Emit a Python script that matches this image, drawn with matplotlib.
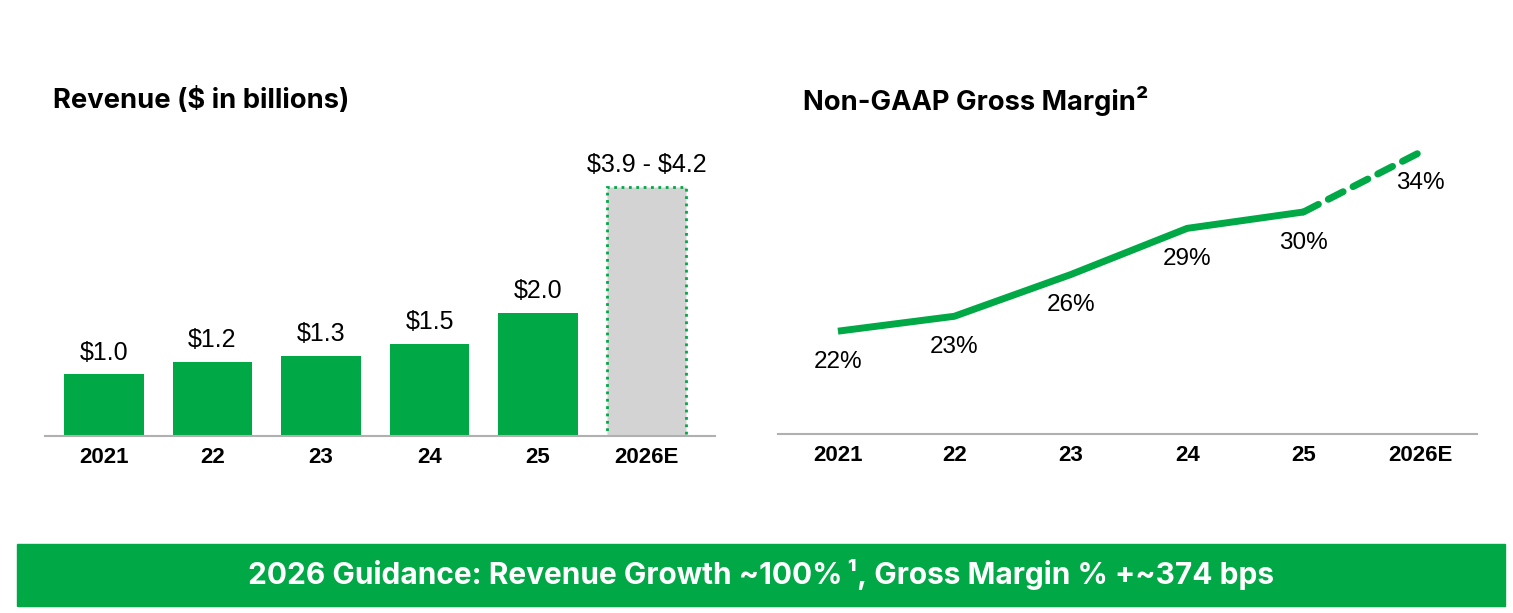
import matplotlib.pyplot as plt
from matplotlib.patches import Rectangle

# revenue, $ in billions (2026E drawn at guidance midpoint)
rev_years = ["2021", "22", "23", "24", "25", "2026E"]
rev_values = [1.0, 1.2, 1.3, 1.5, 2.0, 4.05]
rev_labels = ["\\$1.0", "\\$1.2", "\\$1.3", "\\$1.5", "\\$2.0", "\\$3.9 - \\$4.2"]

# non-GAAP gross margin, %
gm_years = ["2021", "22", "23", "24", "25", "2026E"]
gm_values = [22.0, 23.0, 25.8, 28.9, 30.0, 34.0]
gm_labels = ["22%", "23%", "26%", "29%", "30%", "34%"]

GREEN = "#00A846"
W, H = 1513, 613

fig = plt.figure(figsize=(W / 100, H / 100), dpi=100)


def ax_box(x0, x1, ybot, ytop):
    return [x0 / W, 1 - ybot / H, (x1 - x0) / W, (ybot - ytop) / H]


# ---- revenue bars
ax1 = fig.add_axes(ax_box(45, 715, 436, 140))
xs = list(range(len(rev_years)))
ax1.bar(xs[:-1], rev_values[:-1], width=0.73, color=GREEN)
ax1.bar(xs[-1], rev_values[-1], width=0.73, color="#D3D3D3",
        edgecolor=GREEN, linestyle=":", linewidth=2)
for x, v, lab in zip(xs, rev_values, rev_labels):
    ax1.annotate(lab, (x, v), xytext=(0, 7), textcoords="offset points",
                 ha="center", va="bottom", fontsize=18, family="Liberation Sans")
ax1.set_xlim(-0.543, 5.63)
ax1.set_ylim(0, 4.81)

# ---- gross margin line
ax2 = fig.add_axes(ax_box(778, 1477, 434, 140))
xs2 = list(range(len(gm_years)))
ax2.plot(xs2[:-1], gm_values[:-1], color=GREEN, lw=5, solid_capstyle="butt")
ax2.plot(xs2[-2:], gm_values[-2:], color=GREEN, lw=5, ls=(0, (2.4, 1.6)),
         dash_capstyle="round")
for x, v, lab in zip(xs2, gm_values, gm_labels):
    ax2.annotate(lab, (x, v), xytext=(0, -22), textcoords="offset points",
                 ha="center", va="center", fontsize=17.5, family="Liberation Sans")
ax2.set_xlim(-0.515, 5.49)
ax2.set_ylim(15.1, 34.83)

for ax, yrs in ((ax1, rev_years), (ax2, gm_years)):
    ax.set_xticks(range(len(yrs)))
    ax.set_xticklabels(yrs, fontsize=16, fontweight="bold", family="Liberation Sans")
    ax.tick_params(axis="x", length=0, pad=8)
    ax.set_yticks([])
    for s in ("top", "right", "left"):
        ax.spines[s].set_visible(False)
    ax.spines["bottom"].set_color("#B0B0B0")
    ax.spines["bottom"].set_linewidth(1.5)
    ax.patch.set_alpha(0)

fig.text(53 / W, 1 - 101 / H, "Revenue (\\$ in billions)", fontsize=19.7,
         fontweight="bold", family="Inter", va="center")
fig.text(803 / W, 1 - 101 / H, "Non-GAAP Gross Margin²", fontsize=19.7,
         fontweight="bold", family="Inter", va="center")

# guidance banner
fig.patches.append(Rectangle((17 / W, 1 - 606 / H), (1505 - 17) / W, 62 / H,
                             transform=fig.transFigure, color=GREEN))
fig.text(761 / W, 1 - 575 / H,
         "2026 Guidance: Revenue Growth ~100%\u2009¹, Gross Margin % +~374 bps",
         fontsize=21.5, fontweight="bold", family="Inter", color="white",
         ha="center", va="center")

fig.savefig("out.png", dpi=100)
